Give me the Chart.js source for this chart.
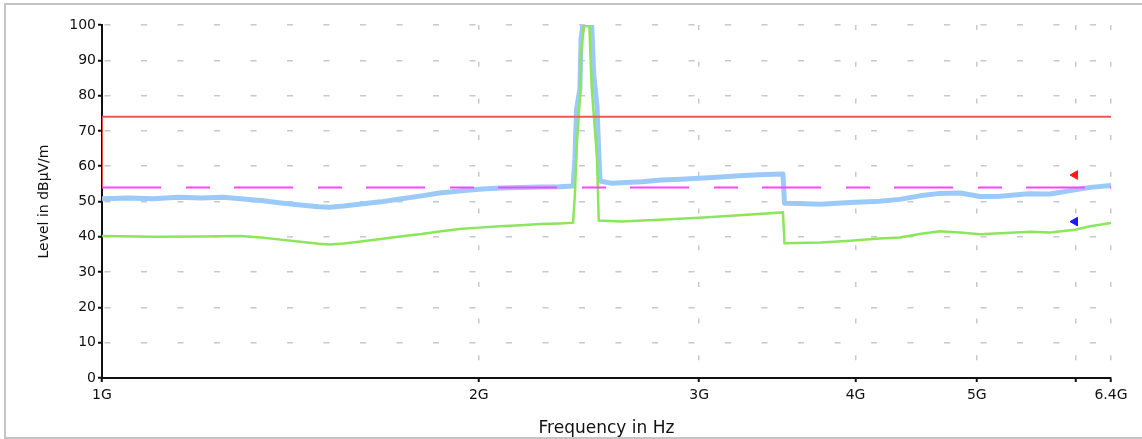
<!DOCTYPE html>
<html>
<head>
<meta charset="utf-8">
<script src="https://cdn.jsdelivr.net/npm/chart.js@4.4.0/dist/chart.umd.min.js"></script>
<style>
  html, body { margin: 0; padding: 0; background: #fff; }
  canvas { display: block; }
</style>
</head>
<body>
<canvas id="emi" width="1142" height="439"></canvas>
<script>
// frequency axis ticks (GHz)
const xTicks = [1, 2, 3, 4, 5, 6, 6.4];
const xLabels = ['1G', '2G', '3G', '4G', '5G', '', '6.4G'];

// limit lines
const limitFreq = [1, 1, 6.4];
const limitLevel = [54, 74, 74];
const avgLimitFreq = [1, 6.4];
const avgLimitLevel = [54, 54];

// peak trace (blue)
const peakFreq = [1.0, 1.05, 1.1, 1.15, 1.2, 1.25, 1.29, 1.34, 1.39, 1.44, 1.49, 1.52, 1.56, 1.61, 1.67, 1.73, 1.8, 1.86, 1.93, 2.0, 2.08, 2.16, 2.24, 2.32, 2.379,
  2.387, 2.394, 2.409, 2.414, 2.422, 2.462, 2.471, 2.486, 2.494, 2.5,
  2.55, 2.6, 2.7, 2.8, 2.9, 3.0, 3.1, 3.23, 3.35, 3.5, 3.51, 3.6, 3.75, 3.96, 4.18, 4.34, 4.5, 4.67, 4.85, 5.03, 5.22, 5.5, 5.72, 5.99, 6.16, 6.4];
const peakLevel = [50.8, 51.0, 50.8, 51.2, 51.0, 51.2, 50.8, 50.3, 49.6, 49.0, 48.5, 48.4, 48.7, 49.3, 49.9, 50.7, 51.6, 52.4, 53.0, 53.5, 53.8, 54.0, 54.1, 54.2, 54.4,
  62, 76, 82, 96, 100, 100, 86, 77, 64, 55.8,
  55.2, 55.3, 55.6, 56.1, 56.3, 56.6, 56.9, 57.3, 57.6, 57.8, 49.5, 49.4, 49.2, 49.7, 50.1, 50.6, 51.6, 52.3, 52.4, 51.4, 51.5, 52.2, 52.1, 53.3, 54.0, 54.5];

// average trace (green)
const avgFreq = [1.0, 1.1, 1.2, 1.29, 1.34, 1.39, 1.44, 1.49, 1.52, 1.56, 1.61, 1.67, 1.73, 1.8, 1.86, 1.93, 2.0, 2.08, 2.16, 2.24, 2.32, 2.379,
  2.387, 2.394, 2.409, 2.414, 2.427, 2.451, 2.462, 2.477, 2.486, 2.494,
  2.6, 2.79, 3.0, 3.23, 3.5, 3.51, 3.75, 3.96, 4.18, 4.34, 4.5, 4.67, 4.85, 5.03, 5.22, 5.52, 5.72, 5.99, 6.16, 6.4];
const avgLevel = [40.2, 40.0, 40.1, 40.2, 39.8, 39.2, 38.6, 38.0, 37.8, 38.1, 38.7, 39.4, 40.1, 40.8, 41.5, 42.2, 42.6, 43.0, 43.3, 43.6, 43.8, 44.0,
  52, 65, 79, 92, 100, 100, 82, 70, 62, 44.6,
  44.3, 44.8, 45.4, 46.1, 46.9, 38.2, 38.4, 38.9, 39.5, 39.8, 40.8, 41.6, 41.2, 40.7, 41.0, 41.4, 41.2, 42.0, 43.0, 43.9];

// markers
const markerFreq = [5.99];
const markerPeak = [57.5];
const markerAvg = [44.3];

const xy = (xs, ys) => xs.map((x, i) => ({x: x, y: ys[i]}));

const frame = {
    id: 'frame',
    beforeDraw(chart) {
        const ctx = chart.ctx;
        ctx.save();
        ctx.strokeStyle = '#c4c4c4';
        ctx.lineWidth = 2;
        ctx.strokeRect(5, 4, 1160, 434);
        ctx.restore();
    }
};

const tickFont = {family: 'DejaVu Sans', size: 14};

new Chart(document.querySelector('#emi'), {
    type: 'line',
    data: {
        datasets: [{
            data: xy(markerFreq, markerPeak),
            showLine: false,
            pointStyle: 'triangle',
            rotation: -90,
            pointRadius: 5,
            pointBackgroundColor: '#ff1a1a',
            pointBorderColor: '#ff1a1a'
        }, {
            data: xy(markerFreq, markerAvg),
            showLine: false,
            pointStyle: 'triangle',
            rotation: -90,
            pointRadius: 5,
            pointBackgroundColor: '#1a1aff',
            pointBorderColor: '#1a1aff'
        }, {
            data: xy(limitFreq, limitLevel),
            borderColor: '#f25555',
            borderWidth: 2
        }, {
            data: xy(avgLimitFreq, avgLimitLevel),
            borderColor: '#ff44ff',
            borderWidth: 2,
            borderDash: [59, 25, 24, 24]
        }, {
            data: xy(avgFreq, avgLevel),
            borderColor: '#8be65a',
            borderWidth: 2.5
        }, {
            data: xy(peakFreq, peakLevel),
            borderColor: '#9ccaf8',
            borderWidth: 5,
            borderJoinStyle: 'round'
        }]
    },
    options: {
        responsive: false,
        animation: false,
        devicePixelRatio: 1,
        layout: {
            padding: {left: 0, right: 31, top: 25, bottom: 0}
        },
        elements: {
            point: {radius: 0},
            line: {tension: 0, borderJoinStyle: 'miter'}
        },
        plugins: {
            legend: {display: false},
            tooltip: {enabled: false}
        },
        scales: {
            x: {
                type: 'logarithmic',
                min: 1,
                max: 6.4,
                afterBuildTicks: s => { s.ticks = xTicks.map(v => ({value: v})); },
                afterFit: s => { s.height = 61; },
                grid: {
                    color: '#c8c8c8',
                    lineWidth: 1.5,
                    tickColor: '#111',
                    tickWidth: 2,
                    tickLength: 4
                },
                border: {
                    color: '#111',
                    width: 2,
                    dash: [5, 31.7]
                },
                ticks: {
                    color: '#111',
                    font: tickFont,
                    padding: 5,
                    maxRotation: 0,
                    autoSkip: false,
                    callback: (v, i) => xLabels[i]
                },
                title: {
                    display: true,
                    text: 'Frequency in Hz',
                    color: '#111',
                    font: {family: 'DejaVu Sans', size: 17},
                    padding: {top: 0, bottom: 0}
                }
            },
            y: {
                min: 0,
                max: 100,
                afterFit: s => { s.width = 102; },
                grid: {
                    color: '#c8c8c8',
                    lineWidth: 1.5,
                    tickColor: '#111',
                    tickWidth: 2,
                    tickLength: 4
                },
                border: {
                    color: '#111',
                    width: 2,
                    dash: [6, 30.5],
                    dashOffset: 35
                },
                ticks: {
                    stepSize: 5,
                    color: '#111',
                    font: tickFont,
                    padding: 2,
                    callback: v => (v % 10 === 0 ? v : '')
                },
                title: {
                    display: true,
                    text: 'Level in dBµV/m',
                    color: '#111',
                    font: {family: 'DejaVu Sans', size: 14},
                    padding: {top: 36, bottom: 0}
                }
            }
        }
    },
    plugins: [frame]
});
</script>
</body>
</html>
